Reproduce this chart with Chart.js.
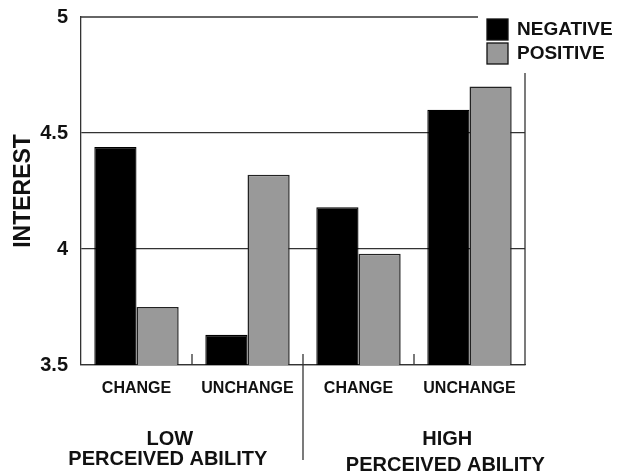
<!DOCTYPE html>
<html>
<head>
<meta charset="utf-8">
<script src="https://cdn.jsdelivr.net/npm/chart.js@4"></script>
<style>
  html, body { margin: 0; padding: 0; background: #fff; }
  canvas { display: block; }
</style>
</head>
<body>
<canvas id="interestChart" width="631" height="475"></canvas>
<script>
// === Data ===
const categories = ["CHANGE", "UNCHANGE", "CHANGE", "UNCHANGE"];
const negativeValues = [4.44, 3.63, 4.18, 4.60];
const positiveValues = [3.75, 4.32, 3.98, 4.70];
const groupLabels = [["LOW", "PERCEIVED ABILITY"], ["HIGH", "PERCEIVED ABILITY"]];
const yTicks = [3.5, 4, 4.5, 5];

const lineColor = "#333";
const fontFamily = "'Liberation Sans', Arial, sans-serif";

// === Frame, ticks, group labels and legend ===
const framePlugin = {
  id: "frame",
  afterDraw(chart) {
    const ctx = chart.ctx;
    const area = chart.chartArea;
    const x = chart.scales.x;
    const y = chart.scales.y;
    const top = y.getPixelForValue(5);
    const bottom = area.bottom;

    ctx.save();
    ctx.strokeStyle = lineColor;
    ctx.lineWidth = 1.3;

    // top border (stops before the legend)
    ctx.beginPath();
    ctx.moveTo(area.left, top);
    ctx.lineTo(area.right - 47, top);
    ctx.stroke();

    // right border (starts below the legend)
    ctx.beginPath();
    ctx.moveTo(area.right, top + 56);
    ctx.lineTo(area.right, bottom);
    ctx.stroke();

    // small ticks between categories, long one between the groups
    for (let i = 0; i < categories.length - 1; i++) {
      const px = (x.getPixelForValue(i) + x.getPixelForValue(i + 1)) / 2;
      ctx.beginPath();
      ctx.moveTo(px, bottom - 11);
      ctx.lineTo(px, i === 1 ? bottom + 95 : bottom);
      ctx.stroke();
    }

    // group labels
    ctx.fillStyle = "#111";
    ctx.textAlign = "center";
    ctx.textBaseline = "middle";
    ctx.font = "bold 20px " + fontFamily;
    const step = x.getPixelForValue(1) - x.getPixelForValue(0);
    const centers = [x.getPixelForValue(0) + step * 0.3, x.getPixelForValue(2) + step * 0.8];
    centers.forEach((cx, g) => {
      ctx.fillText(groupLabels[g][0], cx, bottom + 74);
      ctx.fillText(groupLabels[g][1], cx - 2, bottom + 94 + g * 6);
    });

    // legend
    ctx.textAlign = "left";
    ctx.font = "bold 19px " + fontFamily;
    chart.data.datasets.forEach((ds, i) => {
      const bx = area.right - 38;
      const by = top + 2 + i * 24;
      ctx.fillStyle = ds.backgroundColor;
      ctx.fillRect(bx, by, 21, 21);
      ctx.strokeStyle = "#111";
      ctx.lineWidth = 1.3;
      ctx.strokeRect(bx, by, 21, 21);
      ctx.fillStyle = "#111";
      ctx.fillText(ds.label, bx + 30, by + 11);
    });
    ctx.restore();
  }
};

const ctx = document.getElementById("interestChart").getContext("2d");
new Chart(ctx, {
  type: "bar",
  data: {
    labels: categories,
    datasets: [
      {
        label: "NEGATIVE",
        data: negativeValues,
        backgroundColor: "#000",
        borderColor: "#000",
        borderWidth: 1.3
      },
      {
        label: "POSITIVE",
        data: positiveValues,
        backgroundColor: "#999",
        borderColor: "#222",
        borderWidth: 1.5
      }
    ]
  },
  options: {
    responsive: false,
    animation: false,
    devicePixelRatio: 1,
    layout: { padding: { top: 17, right: 106, left: 0, bottom: 0 } },
    datasets: { bar: { categoryPercentage: 0.76, barPercentage: 1 } },
    plugins: {
      legend: { display: false },
      tooltip: { enabled: false }
    },
    scales: {
      x: {
        grid: { display: false },
        border: { display: true, color: lineColor, width: 1.3 },
        ticks: {
          color: "#111",
          padding: 6,
          maxRotation: 0,
          font: { family: fontFamily, size: 16, weight: "bold" }
        },
        afterFit(scale) { scale.height = 110; }
      },
      y: {
        min: 3.5,
        max: 5,
        afterBuildTicks(scale) { scale.ticks = yTicks.map(v => ({ value: v })); },
        grid: {
          drawTicks: false,
          lineWidth: 1.3,
          color: c => (c.tick && c.tick.value === 5 ? "rgba(0,0,0,0)" : lineColor)
        },
        border: { display: true, color: lineColor, width: 1.3 },
        ticks: {
          color: "#111",
          padding: 13,
          font: { family: fontFamily, size: 20, weight: "bold" },
          callback: v => String(v)
        },
        title: {
          display: true,
          text: "INTEREST",
          color: "#111",
          padding: { top: 10, bottom: 0 },
          font: { family: fontFamily, size: 23, weight: "bold" }
        },
        afterFit(scale) {
          scale.width = 81;
          scale.paddingTop = 0;
          scale.paddingBottom = 0;
        }
      }
    }
  },
  plugins: [framePlugin]
});
</script>
</body>
</html>
